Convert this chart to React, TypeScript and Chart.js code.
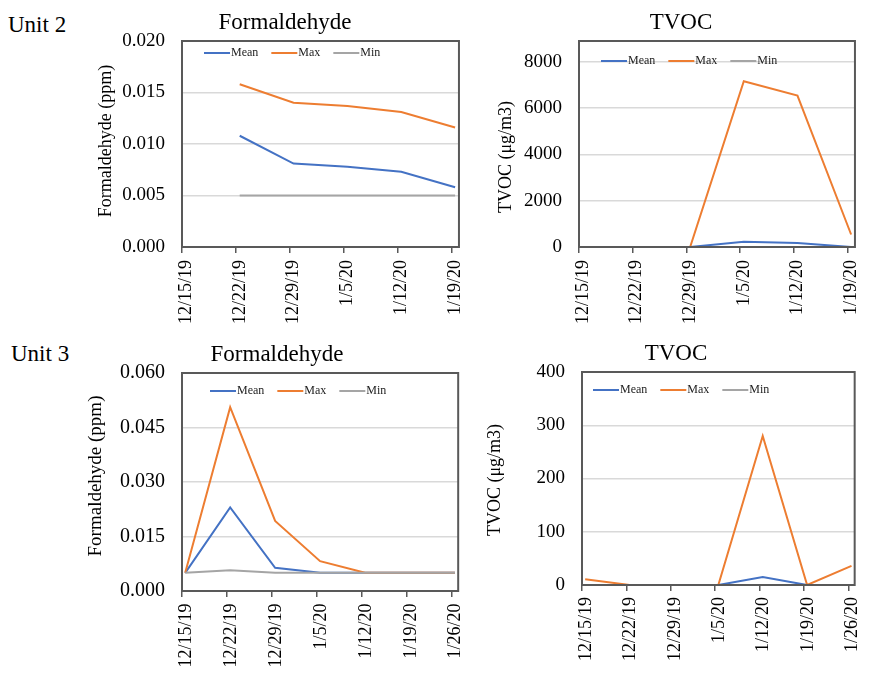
import React, { useEffect, useRef } from 'react';
import { Chart, registerables } from 'chart.js';
Chart.register(...registerables);

const FONT = '"Liberation Serif", "Times New Roman", serif';
const BLUE = '#4472C4';
const ORANGE = '#ED7D31';
const GRAY = '#A5A5A5';

const seriesNames = ['Mean', 'Max', 'Min'];
const seriesColors = [BLUE, ORANGE, GRAY];

// tick labels (one every 7 days, starting 12/15/19 = day 0)
const unit2Dates = ['12/15/19', '12/22/19', '12/29/19', '1/5/20', '1/12/20', '1/19/20'];
const unit3Dates = ['12/15/19', '12/22/19', '12/29/19', '1/5/20', '1/12/20', '1/19/20', '1/26/20'];

// y tick values
const hcho2Ticks = [0, 0.005, 0.01, 0.015, 0.02];
const tvoc2Ticks = [0, 2000, 4000, 6000, 8000];
const hcho3Ticks = [0, 0.015, 0.03, 0.045, 0.06];
const tvoc3Ticks = [0, 100, 200, 300, 400];

// Unit 2 – Formaldehyde (ppm)
const unit2HchoDays = [7.5, 14.5, 21.5, 28.5, 35.5];
const unit2HchoMean = [0.0108, 0.0081, 0.0078, 0.0073, 0.0058];
const unit2HchoMax = [0.0158, 0.014, 0.0137, 0.0131, 0.0116];
const unit2HchoMin = [0.005, 0.005, 0.005, 0.005, 0.005];

// Unit 2 – TVOC (µg/m3)
const unit2TvocDays = [7.5, 14.5, 21.5, 28.5, 35.5];
const unit2TvocMean = [0, 0, 230, 170, 0];
const unit2TvocMax = [0, 0, 7160, 6540, 540];
const unit2TvocMin = [0, 0, 0, 0, 0];

// Unit 3 – Formaldehyde (ppm)
const unit3Days = [0.5, 7.5, 14.5, 21.5, 28.5, 35.5, 42.5];
const unit3HchoMean = [0.005, 0.023, 0.0064, 0.005, 0.005, 0.005, 0.005];
const unit3HchoMax = [0.005, 0.0506, 0.0193, 0.0082, 0.005, 0.005, 0.005];
const unit3HchoMin = [0.005, 0.0057, 0.005, 0.005, 0.005, 0.005, 0.005];

// Unit 3 – TVOC (µg/m3)
const unit3TvocMean = [0, 0, 0, 0, 15, 0, null];
const unit3TvocMax = [11, 0, 0, 0, 280, 0, 36];
const unit3TvocMin = [0, 0, 0, 0, 0, 0, 0];

type Panel = {
  box: { left: number; top: number; w: number; h: number };
  area: { left: number; right: number; top: number; bottom: number };
  title: string;
  titleX: number;
  titleY: number;
  yTitle: string;
  yTitleX: number;
  yTitleY: number;
  yTitleSize: number;
  yTickSize: number;
  legendDx: number;
  legendDy: number;
  xMax: number;
  xLabels: string[];
  xGap: number;
  yMax: number;
  yTicks: number[];
  yDecimals: number;
  days: number[];
  series: (number | null)[][];
};

const panels: Panel[] = [
  {
    box: { left: 70, top: 0, w: 410, h: 335 },
    area: { left: 182, right: 475, top: 41, bottom: 247 },
    title: 'Formaldehyde', titleX: 285, titleY: 29,
    yTitle: 'Formaldehyde (ppm)', yTitleX: 106, yTitleY: 141, yTitleSize: 18, yTickSize: 19,
    legendDx: 22, legendDy: 12,
    xMax: 36, xLabels: unit2Dates, xGap: 13,
    yMax: 0.02, yTicks: hcho2Ticks, yDecimals: 3,
    days: unit2HchoDays, series: [unit2HchoMean, unit2HchoMax, unit2HchoMin],
  },
  {
    box: { left: 480, top: 0, w: 396, h: 335 },
    area: { left: 579, right: 872, top: 41, bottom: 247 },
    title: 'TVOC', titleX: 681, titleY: 29,
    yTitle: 'TVOC (\u03bcg/m3)', yTitleX: 506, yTitleY: 157, yTitleSize: 18, yTickSize: 19,
    legendDx: 22, legendDy: 20,
    xMax: 36, xLabels: unit2Dates, xGap: 13,
    yMax: 8900, yTicks: tvoc2Ticks, yDecimals: 0,
    days: unit2TvocDays, series: [unit2TvocMean, unit2TvocMax, unit2TvocMin],
  },
  {
    box: { left: 70, top: 335, w: 410, h: 339 },
    area: { left: 182, right: 474, top: 373, bottom: 591 },
    title: 'Formaldehyde', titleX: 277, titleY: 361,
    yTitle: 'Formaldehyde (ppm)', yTitleX: 96, yTitleY: 476, yTitleSize: 19, yTickSize: 20,
    legendDx: 28, legendDy: 18,
    xMax: 43, xLabels: unit3Dates, xGap: 12.5,
    yMax: 0.06, yTicks: hcho3Ticks, yDecimals: 3,
    days: unit3Days, series: [unit3HchoMean, unit3HchoMax, unit3HchoMin],
  },
  {
    box: { left: 480, top: 335, w: 396, h: 339 },
    area: { left: 582, right: 873, top: 372, bottom: 585 },
    title: 'TVOC', titleX: 676, titleY: 360,
    yTitle: 'TVOC (\u03bcg/m3)', yTitleX: 495, yTitleY: 480, yTitleSize: 18, yTickSize: 19,
    legendDx: 11, legendDy: 18,
    xMax: 43, xLabels: unit3Dates, xGap: 12,
    yMax: 400, yTicks: tvoc3Ticks, yDecimals: 0,
    days: unit3Days, series: [unit3TvocMean, unit3TvocMax, unit3TvocMin],
  },
];

function ChartPanel({ p }: { p: Panel }) {
  const ref = useRef<HTMLCanvasElement>(null);
  useEffect(() => {
    if (!ref.current) return;
    const { box, area } = p;
    const decor = {
      id: 'decor',
      afterDatasetsDraw(chart: any) {
        const ctx = chart.ctx as CanvasRenderingContext2D;
        const ca = chart.chartArea;
        ctx.save();
        // plot frame
        ctx.strokeStyle = '#595959';
        ctx.lineWidth = 2;
        ctx.strokeRect(ca.left, ca.top, ca.right - ca.left, ca.bottom - ca.top);
        // legend
        ctx.font = `12px ${FONT}`;
        ctx.textBaseline = 'middle';
        ctx.textAlign = 'left';
        let x = ca.left + p.legendDx;
        const y = ca.top + p.legendDy;
        seriesNames.forEach((name, i) => {
          ctx.strokeStyle = seriesColors[i];
          ctx.lineWidth = 2;
          ctx.beginPath();
          ctx.moveTo(x, y);
          ctx.lineTo(x + 26, y);
          ctx.stroke();
          ctx.fillStyle = '#222';
          ctx.fillText(name, x + 27, y);
          x += 27 + ctx.measureText(name).width + 13;
        });
        // title
        ctx.fillStyle = '#000';
        ctx.font = `23px ${FONT}`;
        ctx.textAlign = 'center';
        ctx.textBaseline = 'alphabetic';
        ctx.fillText(p.title, p.titleX - box.left, p.titleY - box.top);
        // y-axis title
        ctx.translate(p.yTitleX - box.left, p.yTitleY - box.top);
        ctx.rotate(-Math.PI / 2);
        ctx.font = `${p.yTitleSize}px ${FONT}`;
        ctx.textBaseline = 'middle';
        ctx.fillText(p.yTitle, 0, 0);
        ctx.restore();
      },
    };
    const xTickValues: number[] = p.xLabels.map((_, i) => i * 7);
    const chart = new Chart(ref.current, {
      type: 'line',
      data: {
        datasets: p.series.map((vals, i) => ({
          label: seriesNames[i],
          data: vals.map((v, j) => ({ x: p.days[j], y: v })),
          borderColor: seriesColors[i],
          backgroundColor: seriesColors[i],
          borderWidth: 2,
          pointRadius: 0,
          tension: 0,
          order: 3 - i,
        })),
      },
      options: {
        animation: false,
        responsive: false,
        events: [],
        layout: {
          autoPadding: false,
          padding: {
            left: 0,
            right: box.left + box.w - area.right,
            top: area.top - box.top,
            bottom: 0,
          },
        },
        plugins: {
          legend: { display: false },
          title: { display: false },
          tooltip: { enabled: false },
        },
        scales: {
          x: {
            type: 'linear',
            position: 'bottom',
            min: 0,
            max: p.xMax,
            afterFit: (s: any) => { s.height = box.top + box.h - area.bottom; },
            afterBuildTicks: (s: any) => { s.ticks = xTickValues.map((v) => ({ value: v })); },
            border: { display: false },
            grid: {
              drawOnChartArea: false,
              drawTicks: true,
              tickLength: 6,
              color: '#595959',
              lineWidth: 1.5,
            },
            ticks: {
              autoSkip: false,
              minRotation: 90,
              maxRotation: 90,
              padding: p.xGap - 6,
              labelOffset: 4,
              color: '#000',
              font: { family: FONT, size: 18 },
              callback: (v: any) => p.xLabels[Math.round(Number(v) / 7)] ?? '',
            },
          },
          y: {
            type: 'linear',
            position: 'left',
            min: 0,
            max: p.yMax,
            afterFit: (s: any) => { s.width = area.left - box.left; },
            afterBuildTicks: (s: any) => { s.ticks = p.yTicks.map((v) => ({ value: v })); },
            border: { display: false },
            grid: {
              drawTicks: false,
              color: '#D9D9D9',
              lineWidth: 1.5,
            },
            ticks: {
              autoSkip: false,
              padding: 17,
              color: '#000',
              font: { family: FONT, size: p.yTickSize },
              callback: (v: any) => Number(v).toFixed(p.yDecimals),
            },
          },
        },
      },
      plugins: [decor],
    } as any);
    return () => chart.destroy();
  }, [p]);
  return (
    <canvas
      ref={ref}
      width={p.box.w}
      height={p.box.h}
      style={{ position: 'absolute', left: p.box.left, top: p.box.top, width: p.box.w, height: p.box.h, display: 'block' }}
    />
  );
}

export default function App() {
  const unitStyle: React.CSSProperties = {
    position: 'absolute',
    left: 8,
    fontFamily: FONT,
    fontSize: 23,
    lineHeight: '23px',
    color: '#000',
    whiteSpace: 'nowrap',
  };
  return (
    <div style={{ position: 'absolute', left: 0, top: 0, width: 876, height: 674, background: '#fff', overflow: 'hidden' }}>
      <div style={{ ...unitStyle, top: 13 }}>Unit 2</div>
      <div style={{ ...unitStyle, top: 342, left: 11 }}>Unit 3</div>
      {panels.map((p, i) => (
        <ChartPanel key={i} p={p} />
      ))}
    </div>
  );
}
